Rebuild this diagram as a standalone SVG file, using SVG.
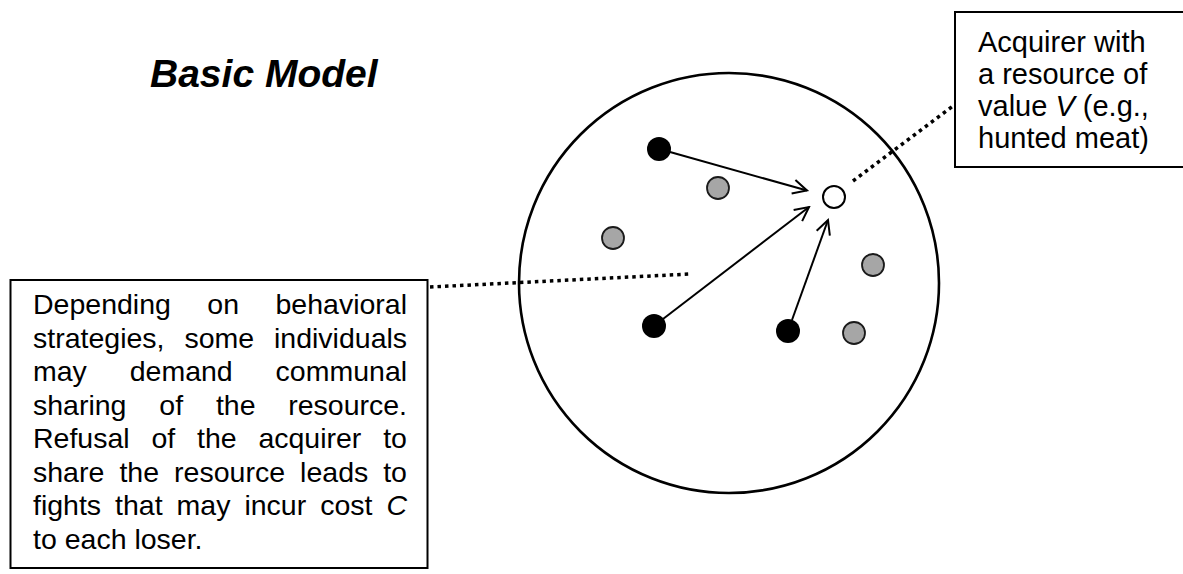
<svg xmlns="http://www.w3.org/2000/svg" width="1183" height="574" viewBox="0 0 1183 574">
<style>
text{font-family:"Liberation Sans",Arial,sans-serif;fill:#000}
.t{font-size:28.5px}
.r{font-size:29px}
.title{font-size:39px;font-weight:bold;font-style:italic}
.i{font-style:italic}
.box{fill:#fff;stroke:#000;stroke-width:2}
.black{fill:#000}
.gray{fill:#a6a6a6;stroke:#1a1a1a;stroke-width:1.8}
.white{fill:#fff;stroke:#000;stroke-width:2}
.arrow{stroke:#000;stroke-width:2;fill:none;marker-end:url(#ah)}
.dot{stroke:#000;stroke-width:3.5;stroke-dasharray:3.5 4;fill:none}
</style>
<defs>
<marker id="ah" markerUnits="userSpaceOnUse" viewBox="-16 -9 18 18" refX="0" refY="0" markerWidth="18" markerHeight="18" orient="auto">
<path d="M-14,-7 L0,0 L-14,7" fill="none" stroke="#000" stroke-width="2"/>
</marker>
</defs>
<rect width="1183" height="574" fill="#fff"/>
<g id="title"><text class="title" x="150" y="87">Basic Model</text></g>
<g id="population"><circle cx="729" cy="283" r="210" fill="none" stroke="#000" stroke-width="2.6"/></g>
<g id="connectors">
<line class="arrow" x1="670" y1="152" x2="807" y2="190.5"/>
<line class="arrow" x1="663" y1="319" x2="809" y2="207"/>
<line class="arrow" x1="792" y1="320" x2="828" y2="220"/>
<line class="dot" x1="430" y1="287" x2="690" y2="274"/>
<line class="dot" x1="853" y1="181" x2="953" y2="106"/>
</g>
<g id="individuals">
<circle class="black" cx="659" cy="149" r="12"/>
<circle class="black" cx="654" cy="326" r="12"/>
<circle class="black" cx="788" cy="331" r="12"/>
<circle class="gray" cx="718" cy="188" r="11"/>
<circle class="gray" cx="613" cy="238" r="11"/>
<circle class="gray" cx="873" cy="265" r="11"/>
<circle class="gray" cx="854" cy="333" r="11"/>
</g>
<g id="acquirer"><circle class="white" cx="834" cy="197" r="11"/></g>
<g id="acquirer-label">
<rect class="box" x="955" y="12" width="240" height="155"/>
<text class="r" x="978" y="52">Acquirer with</text>
<text class="r" x="978" y="84">a resource of</text>
<text class="r" x="978" y="116">value <tspan class="i">V</tspan> (e.g.,</text>
<text class="r" x="978" y="148">hunted meat)</text>
</g>
<g id="strategy-label">
<rect class="box" x="10.5" y="280" width="417" height="288"/>
<text class="t" y="314"><tspan x="33">Depending</tspan><tspan x="207.3">on</tspan><tspan x="275.5">behavioral</tspan></text>
<text class="t" y="347.5"><tspan x="33">strategies,</tspan><tspan x="184.4">some</tspan><tspan x="274">individuals</tspan></text>
<text class="t" y="381"><tspan x="33">may</tspan><tspan x="129.7">demand</tspan><tspan x="275.6">communal</tspan></text>
<text class="t" y="414.5"><tspan x="33">sharing</tspan><tspan x="159.3">of</tspan><tspan x="215.9">the</tspan><tspan x="288.2">resource.</tspan></text>
<text class="t" y="448"><tspan x="33">Refusal</tspan><tspan x="151.4">of</tspan><tspan x="197">the</tspan><tspan x="258.4">acquirer</tspan><tspan x="383.2">to</tspan></text>
<text class="t" y="481.5"><tspan x="33">share</tspan><tspan x="119.4">the</tspan><tspan x="174.1">resource</tspan><tspan x="300.1">leads</tspan><tspan x="383.2">to</tspan></text>
<text class="t" y="515"><tspan x="33">fights</tspan><tspan x="115.1">that</tspan><tspan x="176.6">may</tspan><tspan x="244.4">incur</tspan><tspan x="320.2">cost</tspan><tspan x="386.4" class="i">C</tspan></text>
<text class="t" x="33" y="548.5">to each loser.</text>
</g>
</svg>
